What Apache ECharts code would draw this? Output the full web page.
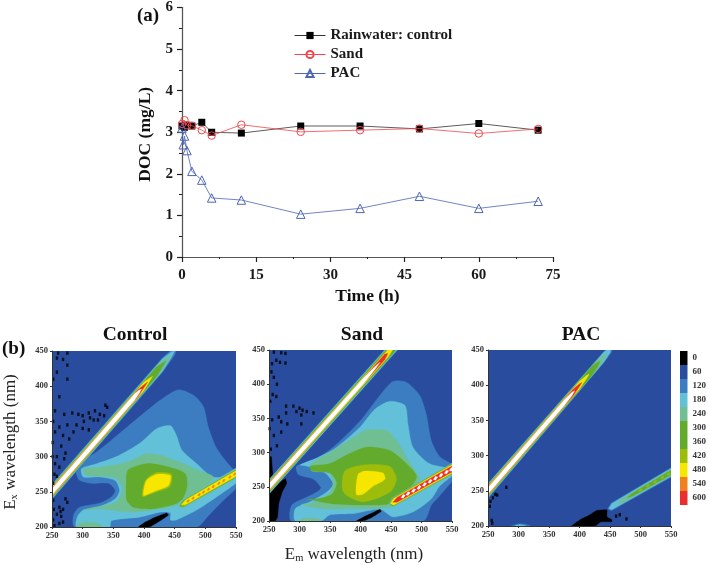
<!DOCTYPE html>
<html><head><meta charset="utf-8">
<style>html,body{margin:0;padding:0;background:#fff}#c{width:709px;height:565px}</style>
<script src="https://cdn.jsdelivr.net/npm/echarts@6/dist/echarts.min.js"></script>
</head><body><div id="c"></div>
<script>
var SERIF='"Liberation Serif","Times New Roman",serif';
// ---------- panel (a) ----------
var timeHours=[0,0.5,1,2,4,6,12,24,36,48,60,72];
var controlDoc=[3.15,3.12,3.17,3.15,3.24,3.0,2.98,3.15,3.15,3.08,3.21,3.05];
var sandDoc=[3.2,3.29,3.17,3.16,3.05,2.92,3.18,3.01,3.05,3.09,2.97,3.08];
var pacHours=[0,0.25,0.5,1,2,4,6,12,24,36,48,60,72];
var pacDoc=[3.1,2.7,2.91,2.56,2.06,1.85,1.42,1.37,1.03,1.17,1.46,1.17,1.34];
// ---------- colour levels ----------
var levelLabels=['0','60','120','180','240','300','360','420','480','540','600'];
var levelColors=['#000000','#2a4c9e','#3b7dc0','#62c0d8','#6fbf92','#62ab2c','#62ab2c','#9dbd0a','#f7e600','#f0801e','#ea2e2e'];
var whiteCore='#ffffff';
// ---------- EEM contours: [em, ex] outlines ----------
var controlContours=[
 {l:120,p:[[287,200],[285,217],[295,228],[328,234],[347,243],[353,252],[342,262],[312,262],[294,267],[289,281],[298,293],[323,307],[353,328],[393,357],[426,380],[456,395],[481,387],[497,371],[505,342],[519,311],[546,281],[555,276],[555,260],[524,233],[503,214],[486,200]]},
 {l:180,p:[[290,200],[291,214],[301,224],[333,231],[353,240],[360,252],[353,266],[328,271],[301,271],[298,283],[323,290],[355,300],[393,319],[421,340],[443,344],[453,330],[462,309],[486,290],[513,271],[555,273],[555,266],[519,243],[486,224],[453,210],[443,210],[443,220],[426,221],[393,214],[347,209],[344,200]]},
 {l:240,p:[[301,224],[328,226],[383,221],[426,226],[453,231],[486,247],[513,271],[486,281],[459,292],[426,302],[404,304],[372,292],[328,285],[301,282],[305,274],[328,272],[355,269],[365,252],[355,236],[328,229]]},
 {l:240,p:[[290,200],[295,205],[310,207],[325,205],[332,200]]},
 {l:300,p:[[372,238],[371,262],[374,281],[404,290],[437,286],[467,276],[470,257],[459,236],[415,226],[383,228]]},
 {l:420,p:[[397,243],[402,266],[419,277],[445,275],[442,257],[421,250],[406,245]]},
 {l:480,p:[[399,245],[404,266],[421,275],[443,273],[440,259],[421,252],[407,247]]}
];
var sandContours=[
 {l:120,p:[[287,200],[287,223],[312,235],[331,244],[335,249],[323,261],[298,268],[295,280],[323,289],[355,308],[399,346],[432,384],[453,404],[475,403],[497,384],[508,356],[516,318],[530,294],[555,280],[555,265],[530,237],[516,223],[503,200]]},
 {l:180,p:[[293,200],[293,218],[317,228],[344,242],[355,254],[342,270],[312,280],[301,282],[328,292],[358,306],[399,337],[423,363],[448,375],[473,369],[478,341],[486,308],[513,284],[555,275],[555,270],[530,251],[516,232],[486,213],[453,206],[432,217],[390,211],[350,209],[336,200]]},
 {l:240,p:[[303,224],[339,218],[383,218],[448,220],[475,237],[497,261],[492,270],[475,294],[459,318],[443,332],[410,333],[388,322],[355,303],[320,284],[320,273],[350,270],[355,256],[350,242],[328,228]]},
 {l:240,p:[[301,200],[306,204],[328,204],[336,200]]},
 {l:300,p:[[314,232],[355,225],[448,225],[475,242],[492,265],[475,284],[448,303],[410,308],[383,299],[350,284],[317,280],[320,274],[350,270],[361,256],[353,239],[328,232]]},
 {l:420,p:[[374,273],[404,282],[448,280],[459,261],[448,242],[404,228],[372,242]]},
 {l:480,p:[[393,239],[396,268],[407,273],[437,270],[440,261],[421,251],[404,239]]}
];
var pacContours=[
 {l:120,p:[[288,200],[298,203],[310,203],[320,200]]},
 {l:180,p:[[294,200],[302,202],[312,200]]}
];
// ribbons: scatter lines; [em, half width in nm] along the line
var controlLine1=[
 {l:120,w:[[240,11],[430,10.5],[450,6],[454,0]]},{l:180,w:[[240,10],[430,9],[445,4],[450,0]]},{l:240,w:[[240,9],[425,8],[440,2],[444,0]]},
 {l:300,w:[[240,8],[420,7],[432,2],[436,0]]},{l:480,w:[[240,6.8],[400,6],[410,2],[414,0]]},{l:600,w:[[240,5.6],[390,5],[402,1.5],[406,0]]},{l:999,w:[[240,4.8],[385,4.5],[392,2.5],[396,0]]}];
var sandLine1=[
 {l:120,w:[[240,11],[470,11]]},{l:180,w:[[240,10],[470,10]]},{l:240,w:[[240,9],[470,9]]},
 {l:300,w:[[240,8],[470,8]]},{l:480,w:[[240,6.8],[445,5.5],[452,3]]},{l:600,w:[[240,5.6],[440,4],[445,0]]},{l:999,w:[[240,4.8],[405,4.4],[425,2],[432,0]]}];
var pacLine1=[
 {l:120,w:[[240,11],[440,8],[452,6],[456,0]]},{l:180,w:[[240,10],[440,7],[450,4],[452,0]]},{l:240,w:[[240,9],[430,6.5],[442,2],[445,0]]},
 {l:300,w:[[240,8],[420,6.5],[430,3],[434,0]]},{l:480,w:[[240,6.8],[400,5.5],[412,2],[416,0]]},{l:600,w:[[240,5.6],[390,4.6],[400,2],[404,0]]},{l:999,w:[[240,4.8],[375,4.2],[388,2.2],[392,0]]}];
var controlLine2=[
 {l:180,w:[[452,0],[458,6],[560,8]]},{l:240,w:[[456,0],[462,5],[560,6.5]]},{l:300,w:[[458,0],[464,4.5],[560,5.5]]},{l:420,w:[[460,0],[466,4],[560,4.5]]},{l:480,w:[[461,0],[468,3.2],[560,3.8]]}];
var sandLine2=[
 {l:180,w:[[446,0],[452,7],[560,8.5]]},{l:240,w:[[447,0],[452,6.5],[560,8]]},{l:300,w:[[448,0],[453,6],[560,7.5]]},{l:480,w:[[449,0],[454,5],[560,6.5]]},{l:600,w:[[453,0],[460,3.5],[560,4.6]]}];
var pacLine2=[
 {l:120,w:[[446,0],[452,5.5],[560,7]]},{l:180,w:[[448,0],[453,4.5],[560,6]]},{l:240,w:[[462,0],[470,3],[560,4.5]]},{l:300,w:[[478,0],[486,2],[560,3.5]]}];
// spots along the second line: centre em
var controlSpots540=[472,480,490,497,505,513,522,530,540,548];
var sandSpotsWhite=[470,478,487,496,505,514,523,532,541,549];
var pacSpots420=[500,512,524,536,546];
// black (below-zero) patches and specks
var controlBlack=[[[391,200],[402,207],[418,214],[437,220],[440,217],[425,208],[412,201],[408,200]]];
var sandBlack=[[[250,200],[250,240],[255,247],[265,255],[277,262],[279,255],[272,243],[266,225],[264,205],[260,200]],[[250,250],[250,294],[254,294],[256,270],[258,255]],[[393,200],[405,206],[420,212],[432,217],[434,214],[420,206],[408,201],[404,200]]];
var pacBlack=[[[387,200],[401,209],[417,216],[428,222],[445,223],[445,213],[453,209],[453,206],[435,206],[428,201],[423,200]]];
var controlSpecks=[[260,447],[275,447],[258,440],[268,438],[275,430],[258,420],[275,410],[262,385],[337,373],[340,370],[320,365],[328,360],[335,358],[310,362],[300,358],[293,360],[283,362],[270,360],[318,352],[312,355],[325,352],[302,350],[290,345],[275,345],[262,342],[300,340],[310,338],[285,335],[268,330],[278,325],[255,335],[265,315],[272,305],[270,297],[258,300],[255,290],[262,285],[258,272],[252,262],[254,275],[252,238],[253,225],[262,228],[268,225],[258,218],[265,215],[272,240],[275,235],[252,210],[262,205],[268,207],[254,202],[264,222],[251,300],[251,320],[252,350],[255,365],[252,410]];
var sandSpecks=[[258,447],[270,446],[277,445],[255,430],[262,435],[277,431],[268,432],[254,418],[258,410],[263,400],[256,385],[262,382],[252,375],[278,368],[290,368],[300,365],[305,362],[295,360],[303,355],[278,358],[266,352],[270,345],[255,348],[280,342],[303,342],[312,360],[323,358],[270,330],[258,325],[263,310],[253,305],[251,335]];
var pacSpecks=[[258,240],[254,235],[253,228],[256,208],[257,204],[280,255],[262,245],[265,244],[460,214],[466,216],[477,210]];

function ribbon(w,ratio,off){
  var a=[],b=[];
  w.forEach(function(n){a.push([n[0],n[0]*ratio+off+n[1]]);b.unshift([n[0],n[0]*ratio+off-n[1]]);});
  return a.concat(b);
}
function spots(list,level,hl,hw){
  return list.map(function(c){return {l:level,w:[[c-hl,0],[c,hw],[c+hl,0]]};});
}
function colorOf(l){return l===999?whiteCore:levelColors[levelLabels.indexOf(String(l))];}
function polyShape(p,api,fill,smooth){
  return {type:'polygon',shape:{points:p.map(function(q){return api.coord(q);}),smooth:smooth},style:{fill:fill,stroke:fill,lineWidth:0.3}};
}
function panelSeries(idx,contours,line1,line2,black,specks){
  var shapes=[];
  contours.forEach(function(c){shapes.push({p:c.p,c:colorOf(c.l),s:0.25});});
  black.forEach(function(b){shapes.push({p:b,c:'#000',s:0.1});});
  line2.forEach(function(r){shapes.push({p:ribbon(r.w,0.5,1),c:colorOf(r.l),s:0});});
  line1.forEach(function(r){shapes.push({p:ribbon(r.w,1,0),c:colorOf(r.l),s:0});});
  return [{
    type:'scatter',xAxisIndex:idx,yAxisIndex:idx,data:specks,symbol:'rect',symbolSize:[2.4,3.4],silent:true,
    itemStyle:{color:'#000'},z:3
  },{
    type:'custom',xAxisIndex:idx,yAxisIndex:idx,clip:true,silent:true,coordinateSystem:'cartesian2d',
    encode:{x:0,y:1},
    data:shapes.map(function(s,i){return [s.p[0][0],s.p[0][1],i];}),
    renderItem:function(params,api){var s=shapes[api.value(2)];return polyShape(s.p,api,s.c,s.s);},
    z:2
  }];
}
var panels=[{l:52,w:184,t:351},{l:269,w:183,t:350},{l:488,w:183,t:350}];
var grids=[{left:182,top:7,width:371,height:250,show:false}];
var xAxes=[{type:'value',gridIndex:0,min:0,max:75,interval:15,minorTick:{show:true,splitNumber:2,length:2,lineStyle:{color:'#222',width:1}},
  axisLine:{show:true,onZero:false,lineStyle:{color:'#222',width:1.2}},axisTick:{length:5,inside:false,lineStyle:{color:'#222',width:1.2}},splitLine:{show:false},minorSplitLine:{show:false},
  axisLabel:{fontFamily:SERIF,fontWeight:'bold',fontSize:15,color:'#1a1a1a',margin:11,hideOverlap:false,showMinLabel:true,showMaxLabel:true},
  name:'Time (h)',nameLocation:'middle',nameGap:30,nameTextStyle:{fontFamily:SERIF,fontWeight:'bold',fontSize:17.5,color:'#111'}},
 {type:'value',gridIndex:0,position:'top',min:0,max:75,interval:15,axisLine:{show:true,lineStyle:{color:'#555',width:1}},axisTick:{show:false},axisLabel:{show:false},splitLine:{show:false}}];
var yAxes=[{type:'value',gridIndex:0,min:0,max:6,interval:1,minorTick:{show:true,splitNumber:2,length:3,lineStyle:{color:'#222',width:1}},
  axisLine:{show:true,onZero:false,lineStyle:{color:'#222',width:1.2}},axisTick:{length:5,lineStyle:{color:'#222',width:1.2}},splitLine:{show:false},minorSplitLine:{show:false},
  axisLabel:{fontFamily:SERIF,fontWeight:'bold',fontSize:15,color:'#1a1a1a',margin:9},
  name:'DOC (mg/L)',nameLocation:'middle',nameGap:23,nameTextStyle:{fontFamily:SERIF,fontWeight:'bold',fontSize:17.5,color:'#111',padding:[0,4,0,0]}},
 {type:'value',gridIndex:0,position:'right',min:0,max:6,interval:1,axisLine:{show:true,lineStyle:{color:'#555',width:1}},axisTick:{show:false},axisLabel:{show:false},splitLine:{show:false}}];
var series=[
 {name:'Rainwater: control',type:'line',xAxisIndex:0,yAxisIndex:0,data:timeHours.map(function(t,i){return [t,controlDoc[i]];}),symbol:'rect',symbolSize:7,showAllSymbol:true,
  lineStyle:{color:'#333',width:0.8},itemStyle:{color:'#000'},z:2},
 {name:'Sand',type:'line',xAxisIndex:0,yAxisIndex:0,data:timeHours.map(function(t,i){return [t,sandDoc[i]];}),symbol:'circle',symbolSize:7.5,showAllSymbol:true,
  lineStyle:{color:'#f0464c',width:0.8},itemStyle:{color:'rgba(255,255,255,0)',borderColor:'#f0464c',borderWidth:1},z:3},
 {name:'PAC',type:'line',xAxisIndex:0,yAxisIndex:0,data:pacHours.map(function(t,i){return [t,pacDoc[i]];}),symbol:'triangle',symbolSize:8.5,showAllSymbol:true,
  lineStyle:{color:'#4e66b4',width:0.8},itemStyle:{color:'rgba(255,255,255,0)',borderColor:'#4e66b4',borderWidth:1},z:4}
];
var smallLabel={fontFamily:SERIF,fontWeight:'bold',fontSize:8.5,color:'#333',margin:4,showMinLabel:true,showMaxLabel:true};
panels.forEach(function(p,i){
  var g=i+1;
  grids.push({left:p.l,top:p.t,width:p.w,height:176,show:true,backgroundColor:levelColors[1],borderColor:'#2a4c9e',borderWidth:0});
  xAxes.push({type:'value',gridIndex:g,min:250,max:550,interval:50,axisLine:{show:true,onZero:false,lineStyle:{color:'#333',width:1}},axisTick:{length:2,lineStyle:{color:'#333'}},splitLine:{show:false},axisLabel:smallLabel,z:5,
    name:i===1?'{e|E}{s|m}{e| wavelength (nm)}':'',nameLocation:'middle',nameGap:24,
    nameTextStyle:{padding:[0,13,0,0],rich:{e:{fontFamily:SERIF,fontSize:17,color:'#222'},s:{fontFamily:SERIF,fontSize:10.5,color:'#222',verticalAlign:'bottom',padding:[8,0,0,0]}}}});
  yAxes.push({type:'value',gridIndex:g,min:200,max:450,interval:50,axisLine:{show:true,onZero:false,lineStyle:{color:'#333',width:1}},axisTick:{length:2,lineStyle:{color:'#333'}},splitLine:{show:false},axisLabel:smallLabel,z:5,
    name:i===0?'{e|E}{s|x}{e| wavelength (nm)}':'',nameLocation:'middle',nameGap:32,
    nameTextStyle:{padding:[0,6,0,0],rich:{e:{fontFamily:SERIF,fontSize:17,color:'#222'},s:{fontFamily:SERIF,fontSize:10.5,color:'#222',verticalAlign:'bottom',padding:[8,0,0,0]}}}});
});
series=series.concat(panelSeries(2,controlContours,controlLine1,controlLine2.concat(spots(controlSpots540,540,2.6,2)),controlBlack,controlSpecks));
series=series.concat(panelSeries(3,sandContours,sandLine1,sandLine2.concat(spots(sandSpotsWhite,999,3.6,2.8)),sandBlack,sandSpecks));
series=series.concat(panelSeries(4,pacContours,pacLine1,pacLine2.concat(spots(pacSpots420,420,3,1.8)),pacBlack,pacSpecks));
// colour key
grids.push({left:680,top:351,width:9.5,height:154,show:false});
xAxes.push({type:'value',gridIndex:4,min:0,max:1,show:false});
yAxes.push({type:'category',gridIndex:4,inverse:true,position:'right',data:levelLabels,axisLine:{show:false},axisTick:{show:false},
  axisLabel:{fontFamily:SERIF,fontWeight:'bold',fontSize:9,color:'#333',margin:5,interval:0}});
series.push({type:'bar',xAxisIndex:5,yAxisIndex:5,barWidth:'100%',silent:true,data:levelColors.map(function(c){return {value:1,itemStyle:{color:c}};})});

var titles=[['Control',135,325],['Sand',362,325],['PAC',581,325]].map(function(t){
  return {text:t[0],left:t[1],top:t[2],textAlign:'center',textStyle:{fontFamily:SERIF,fontWeight:'bold',fontSize:19.5,color:'#111'}};
});
titles.push({text:'(a)',left:137,top:7,textStyle:{fontFamily:SERIF,fontWeight:'bold',fontSize:19,color:'#111'}});
titles.push({text:'(b)',left:2,top:340,textStyle:{fontFamily:SERIF,fontWeight:'bold',fontSize:19,color:'#111'}});
titles.forEach(function(t){t.padding=0;});
var chart=echarts.init(document.getElementById('c'),null,{renderer:'canvas',width:709,height:565});
chart.setOption({
  animation:false,backgroundColor:'#fff',title:titles,grid:grids,xAxis:xAxes,yAxis:yAxes,series:series,
  legend:{data:['Rainwater: control','Sand','PAC'],orient:'vertical',left:294,top:28,itemWidth:31,itemHeight:9,itemGap:4,padding:0,
    lineStyle:{width:1},textStyle:{fontFamily:SERIF,fontWeight:'bold',fontSize:15,color:'#1a1a1a'},selectedMode:false}
});
</script></body></html>
